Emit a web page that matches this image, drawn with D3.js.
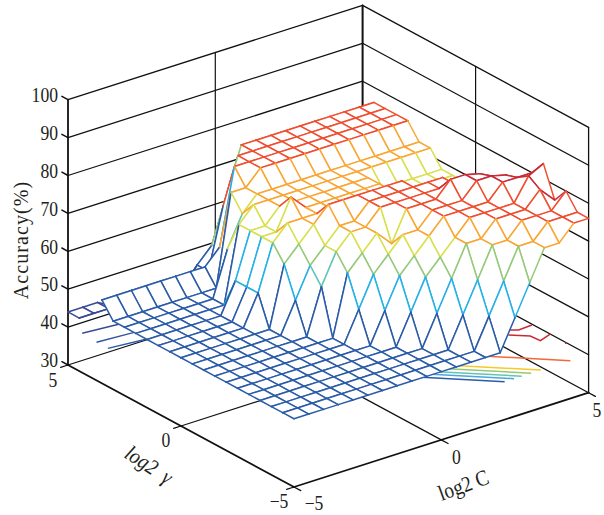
<!DOCTYPE html>
<html>
<head>
<meta charset="utf-8">
<title>Accuracy mesh</title>
<script src="https://cdn.jsdelivr.net/npm/d3@7"></script>
<style>
  body { margin: 0; background: #fff; }
  text { font-family: "Liberation Serif", serif; fill: #231f20; }
</style>
</head>
<body>
<svg id="chart" width="604" height="515"></svg>
<script>
// grid of the search, 0.5 steps on both axes
var cValues = d3.range(21).map(function(k) { return -5 + k / 2; });
var gammaValues = d3.range(21).map(function(k) { return -5 + k / 2; });

// accuracy per gamma row (gamma = -5 first), each row runs over C = -5..5
var accuracy = [
  [48,48,48,48,48,48,48,48,48,48,48,48,48,48,48,56,64,72,72,76,76],
  [48,48,48,48,48,48,48,48,48,48,48,48,48,48,56,64,72,72,76,76,76],
  [48,48,48,48,48,48,48,48,48,48,48,48,48,56,64,72,72,76,76,76,80],
  [48,48,48,48,48,48,48,48,48,48,48,48,56,64,72,72,76,76,76,80,76],
  [48,48,48,48,48,48,48,48,48,48,48,56,64,68,72,76,76,76,76,82,84],
  [48,48,48,48,48,48,48,48,48,48,56,64,68,72,76,76,76,76,80,80,80],
  [48,48,48,48,48,48,48,48,48,56,64,68,72,72,76,76,76,80,80,79,72],
  [48,48,48,48,48,48,48,48,48,64,68,72,68,76,76,76,80,80,79,72,72],
  [48,48,48,48,48,48,48,48,60,68,72,72,76,76,76,76,76,76,72,72,72],
  [48,48,48,48,48,48,48,56,64,68,72,72,76,76,76,76,76,76,68,68,68],
  [48,48,48,48,48,48,48,64,68,72,76,76,76,76,76,76,68,68,68,68,68],
  [48,48,48,48,48,48,56,68,72,72,72,72,72,72,72,72,68,68,68,68,68],
  [48,48,48,48,48,48,56,68,68,76,72,72,72,72,72,72,68,68,68,68,68],
  [48,48,48,48,48,48,56,68,68,72,72,72,72,72,72,72,68,68,68,68,68],
  [48,48,48,48,48,48,48,68,72,72,72,72,72,72,72,72,72,72,72,72,72],
  [48,48,48,48,48,48,48,60,68,72,72,72,72,72,72,72,72,72,72,72,72],
  [48,48,48,48,48,48,48,48,72,72,76,76,76,76,76,76,76,76,76,76,76],
  [52,52,52,52,52,52,52,52,56,76,76,76,76,76,76,76,76,76,76,76,76],
  [null,null,44,44,44,44,44,44,48,64,76,76,76,76,76,76,76,76,76,76,76],
  [44,44,44,42,42,42,42,42,48,52,64,76,76,76,76,76,76,76,76,76,76],
  [44,44,44,42,42,42,42,42,42,42,42,42,42,42,42,42,42,42,42,42,42]
];

// contour lines under the mesh, all on the plane z = 40
var contourLevel = 40;
var contourBlue1 = [[-0.85,-2],[2.15,-5]];
var contourBlue2 = [[-0.53,-2],[2.47,-5]];
var contourTeal = [[-0.27,-2],[2.73,-5]];
var contourGreen = [[0.05,-2],[3.05,-5]];
var contourYellow = [[0.38,-2],[3.38,-5]];
var contourOrange = [[1.38,-2],[4.38,-5]];
var contourRed1 = [[4.3,-2.43],[4.49,-2.57],[4.97,-2.53]];
var contourRed2 = [[4.07,-2.66],[4.5,-3.07],[4.53,-3.48],[5,-3.3]];
var contourRed3 = [[4.95,-4.02],[5,-4.03]];
var contourLeft1 = [[-4.94,4.45],[-3.9,4.33],[-2,4.1]];
var contourLeft2 = [[-4.99,3.75],[-3.92,3.65],[-2,3.4]];
var contourLeft3 = [[-4.99,3.25],[-3.85,3.1],[-2,2.9]];

var contours = [
  { points: contourBlue1, color: "#2b5ca8" },
  { points: contourBlue2, color: "#4ba6dc" },
  { points: contourTeal, color: "#62c4b6" },
  { points: contourGreen, color: "#97c96c" },
  { points: contourYellow, color: "#f5c92e" },
  { points: contourOrange, color: "#f2683a" },
  { points: contourRed1, color: "#c92a35" },
  { points: contourRed2, color: "#c92a35" },
  { points: contourRed3, color: "#c92a35" },
  { points: contourLeft1, color: "#3a4a94" },
  { points: contourLeft2, color: "#34549f" },
  { points: contourLeft3, color: "#2b5ca8" }
];

var zTicks = [30, 40, 50, 60, 70, 80, 90, 100];
var cTicks = [-5, 0, 5];
var gammaTicks = [-5, 0, 5];

// mesh colour bands
var levelBreaks = [46, 54, 58, 62, 66, 70, 74, 79];
var levelColors = ["#3a4a94", "#2b5ca8", "#25b0e6", "#66c5b4", "#97c97a", "#d8e04c", "#f9a634", "#ef4e30", "#c92a35"];

var svg = d3.select("#chart");
var meshColor = d3.scaleThreshold().domain(levelBreaks).range(levelColors);

// oblique view: each data axis moves the point on screen by a fixed vector
var cX = d3.scaleLinear().domain([-5, 5]).range([294, 588.6]);
var cY = d3.scaleLinear().domain([-5, 5]).range([487, 392.7]);
var gX = d3.scaleLinear().domain([-5, 5]).range([0, -226]);
var gY = d3.scaleLinear().domain([-5, 5]).range([0, -122]);
var zY = d3.scaleLinear().domain([30, 100]).range([0, -265.3]);

function project(c, g, z) {
  return [cX(c) + gX(g), cY(c) + gY(g) + zY(z)];
}

function seg(parent, a, b, color, width) {
  parent.append("line")
    .attr("x1", a[0]).attr("y1", a[1])
    .attr("x2", b[0]).attr("y2", b[1])
    .attr("stroke", color)
    .attr("stroke-width", width)
    .attr("stroke-linecap", "round");
}

// box, grid lines
var box = svg.append("g");
zTicks.forEach(function(z) {
  seg(box, project(-5, 5, z), project(5, 5, z), "#111", 1.3);
  seg(box, project(5, 5, z), project(5, -5, z), "#111", 1.3);
});
seg(box, project(0, 5, 30), project(0, 5, 100), "#111", 1.2);
seg(box, project(5, 0, 30), project(5, 0, 100), "#111", 1.2);
seg(box, project(0, 5, 30), project(0, -5, 30), "#111", 1.2);
seg(box, project(-5, 0, 30), project(5, 0, 30), "#111", 1.2);
seg(box, project(-5, 5, 30), project(-5, 5, 100), "#111", 1.8);
seg(box, project(5, 5, 30), project(5, 5, 100), "#111", 2);
seg(box, project(5, -5, 30), project(5, -5, 100), "#111", 1.3);
seg(box, project(-5, 5, 30), project(-5, -5, 30), "#111", 1.8);
seg(box, project(-5, -5, 30), project(5, -5, 30), "#111", 1.8);

// ticks
zTicks.forEach(function(z) {
  seg(box, project(-5, 5, z), project(-5, 5.27, z), "#111", 1.5);
});
gammaTicks.forEach(function(g) {
  seg(box, project(-5, g, 30), project(-5.25, g, 30), "#111", 1.3);
});
cTicks.forEach(function(c) {
  seg(box, project(c, -5, 30), project(c, -5.3, 30), "#111", 1.3);
});

// contours go behind the mesh
var line = d3.line();
svg.append("g").selectAll("path")
  .data(contours)
  .join("path")
  .attr("d", function(d) {
    return line(d.points.map(function(p) { return project(p[0], p[1], contourLevel); }));
  })
  .attr("fill", "none")
  .attr("stroke", function(d) { return d.color; })
  .attr("stroke-width", 1.5);

// mesh, drawn far to near so the white cells hide what is behind
var mesh = svg.append("g");
function edge(i0, j0, i1, j1) {
  var z0 = accuracy[j0][i0], z1 = accuracy[j1][i1];
  if (z0 === null || z1 === null) return;
  seg(mesh,
    project(cValues[i0], gammaValues[j0], z0),
    project(cValues[i1], gammaValues[j1], z1),
    meshColor(z0), 1.5);
}
for (var j = gammaValues.length - 2; j >= 0; j--) {
  for (var i = cValues.length - 2; i >= 0; i--) {
    var corners = [[i, j], [i + 1, j], [i + 1, j + 1], [i, j + 1]];
    var full = corners.every(function(k) { return accuracy[k[1]][k[0]] !== null; });
    if (full) {
      mesh.append("path")
        .attr("d", line(corners.map(function(k) {
          return project(cValues[k[0]], gammaValues[k[1]], accuracy[k[1]][k[0]]);
        })) + "Z")
        .attr("fill", "#fff")
        .attr("stroke", "none");
    }
    edge(i, j + 1, i + 1, j + 1);
    edge(i + 1, j, i + 1, j + 1);
    edge(i, j, i + 1, j);
    edge(i, j, i, j + 1);
  }
}

// labels are squeezed a bit, like the source figure
function label(str, x, y, anchor, size, angle, italic) {
  svg.append("text")
    .attr("transform", "translate(" + x + "," + y + ") rotate(" + (angle || 0) + ") scale(0.88,1)")
    .attr("text-anchor", anchor)
    .attr("font-size", size)
    .attr("font-style", italic ? "italic" : "normal")
    .text(str);
}

zTicks.forEach(function(z) {
  var p = project(-5, 5, z);
  label(String(z), 58, p[1] + 2.2, "end", 20);
});

var gammaLabelPos = [[279, 508], [166, 447], [53, 387]];
var cLabelPos = [[314, 510], [456.5, 464], [597, 417]];
gammaTicks.forEach(function(g, n) {
  label(String(g).replace("-", "\u2212"), gammaLabelPos[n][0], gammaLabelPos[n][1], "middle", 20);
});
cTicks.forEach(function(c, n) {
  label(String(c).replace("-", "\u2212"), cLabelPos[n][0], cLabelPos[n][1], "middle", 20);
});

label("log2\u2002\u03b3", 145, 471, "middle", 22, 33, true);
label("log2 C", 466, 492, "middle", 22, -20);

svg.append("text")
  .attr("transform", "translate(28,240) rotate(-90)")
  .attr("text-anchor", "middle")
  .attr("font-size", 20)
  .attr("letter-spacing", 1.1)
  .text("Accuracy(%)");
</script>
</body>
</html>
